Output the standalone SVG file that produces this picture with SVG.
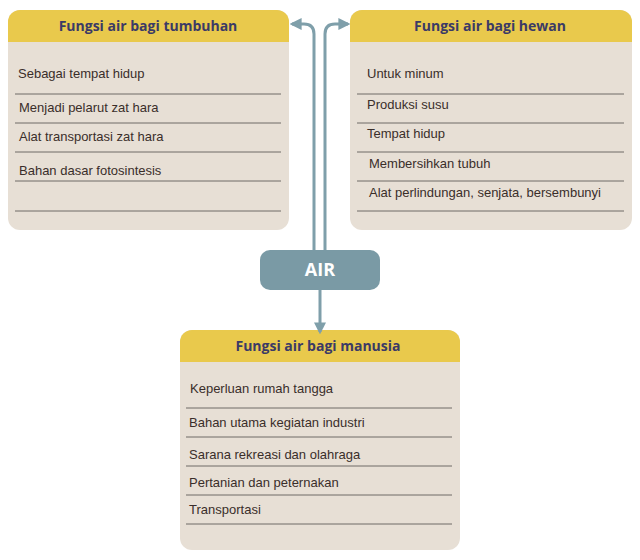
<svg xmlns="http://www.w3.org/2000/svg" width="640" height="560" viewBox="0 0 640 560">
<style>
.box{fill:#e7dfd5}
.hd{fill:#e9c94c}
.t{font-family:"Liberation Sans",Arial,sans-serif;font-size:13px;fill:#3a2e2a}
.h{font-family:"Open Sans","Liberation Sans",sans-serif;font-size:14px;font-weight:bold;fill:#3b3a66;text-anchor:middle}
.ln{stroke:#6e6a66;stroke-width:1}
.c{fill:none;stroke:#7f9faa;stroke-width:3}
</style>
<defs>
<marker id="a" viewBox="0 0 10 10" refX="8" refY="5" markerWidth="4" markerHeight="4" orient="auto"><path d="M0,0L10,5L0,10z" fill="#7f9faa"/></marker>
<clipPath id="c1"><rect x="8" y="10" width="281" height="220" rx="12"/></clipPath>
<clipPath id="c2"><rect x="350" y="10" width="282" height="220" rx="12"/></clipPath>
<clipPath id="c3"><rect x="180" y="330" width="280" height="220" rx="12"/></clipPath>
</defs>
<g id="tumbuhan">
<g clip-path="url(#c1)"><rect class="box" x="8" y="10" width="281" height="220"/><rect class="hd" x="8" y="10" width="281" height="32"/></g>
<text class="h" x="148" y="31">Fungsi air bagi tumbuhan</text>
<text class="t" x="18" y="78">Sebagai tempat hidup</text>
<text class="t" x="19" y="112">Menjadi pelarut zat hara</text>
<text class="t" x="19" y="141">Alat transportasi zat hara</text>
<text class="t" x="19" y="175">Bahan dasar fotosintesis</text>
<g class="ln"><line x1="15" y1="94" x2="281" y2="94"/><line x1="15" y1="123" x2="281" y2="123"/><line x1="15" y1="152" x2="281" y2="152"/><line x1="15" y1="181" x2="281" y2="181"/><line x1="15" y1="211" x2="281" y2="211"/></g>
</g>
<g id="hewan">
<g clip-path="url(#c2)"><rect class="box" x="350" y="10" width="282" height="220"/><rect class="hd" x="350" y="10" width="282" height="32"/></g>
<text class="h" x="490" y="31">Fungsi air bagi hewan</text>
<text class="t" x="367" y="78">Untuk minum</text>
<text class="t" x="367" y="109">Produksi susu</text>
<text class="t" x="367" y="138">Tempat hidup</text>
<text class="t" x="369" y="168">Membersihkan tubuh</text>
<text class="t" x="369" y="197">Alat perlindungan, senjata, bersembunyi</text>
<g class="ln"><line x1="357" y1="94" x2="624" y2="94"/><line x1="357" y1="123" x2="624" y2="123"/><line x1="357" y1="152" x2="624" y2="152"/><line x1="357" y1="181" x2="624" y2="181"/><line x1="357" y1="211" x2="624" y2="211"/></g>
</g>
<g id="manusia">
<g clip-path="url(#c3)"><rect class="box" x="180" y="330" width="280" height="220"/><rect class="hd" x="180" y="330" width="280" height="32"/></g>
<text class="h" x="318" y="351">Fungsi air bagi manusia</text>
<text class="t" x="190" y="393">Keperluan rumah tangga</text>
<text class="t" x="189" y="427">Bahan utama kegiatan industri</text>
<text class="t" x="189" y="459">Sarana rekreasi dan olahraga</text>
<text class="t" x="189" y="487">Pertanian dan peternakan</text>
<text class="t" x="189" y="514">Transportasi</text>
<g class="ln"><line x1="186" y1="408" x2="452" y2="408"/><line x1="186" y1="437" x2="452" y2="437"/><line x1="186" y1="466" x2="452" y2="466"/><line x1="186" y1="495" x2="452" y2="495"/><line x1="186" y1="524" x2="452" y2="524"/></g>
</g>
<g id="connectors">
<path class="c" d="M314,252V34Q314,24 304,24H292" marker-end="url(#a)"/>
<path class="c" d="M325,252V34Q325,24 335,24H348" marker-end="url(#a)"/>
<path class="c" d="M320,290V332" marker-end="url(#a)"/>
</g>
<g id="air">
<rect x="260" y="250" width="120" height="40" rx="10" fill="#7a9aa5"/>
<text x="320" y="276" text-anchor="middle" font-family="Open Sans,Liberation Sans,sans-serif" font-size="18" font-weight="bold" fill="#fff">AIR</text>
</g>
</svg>
